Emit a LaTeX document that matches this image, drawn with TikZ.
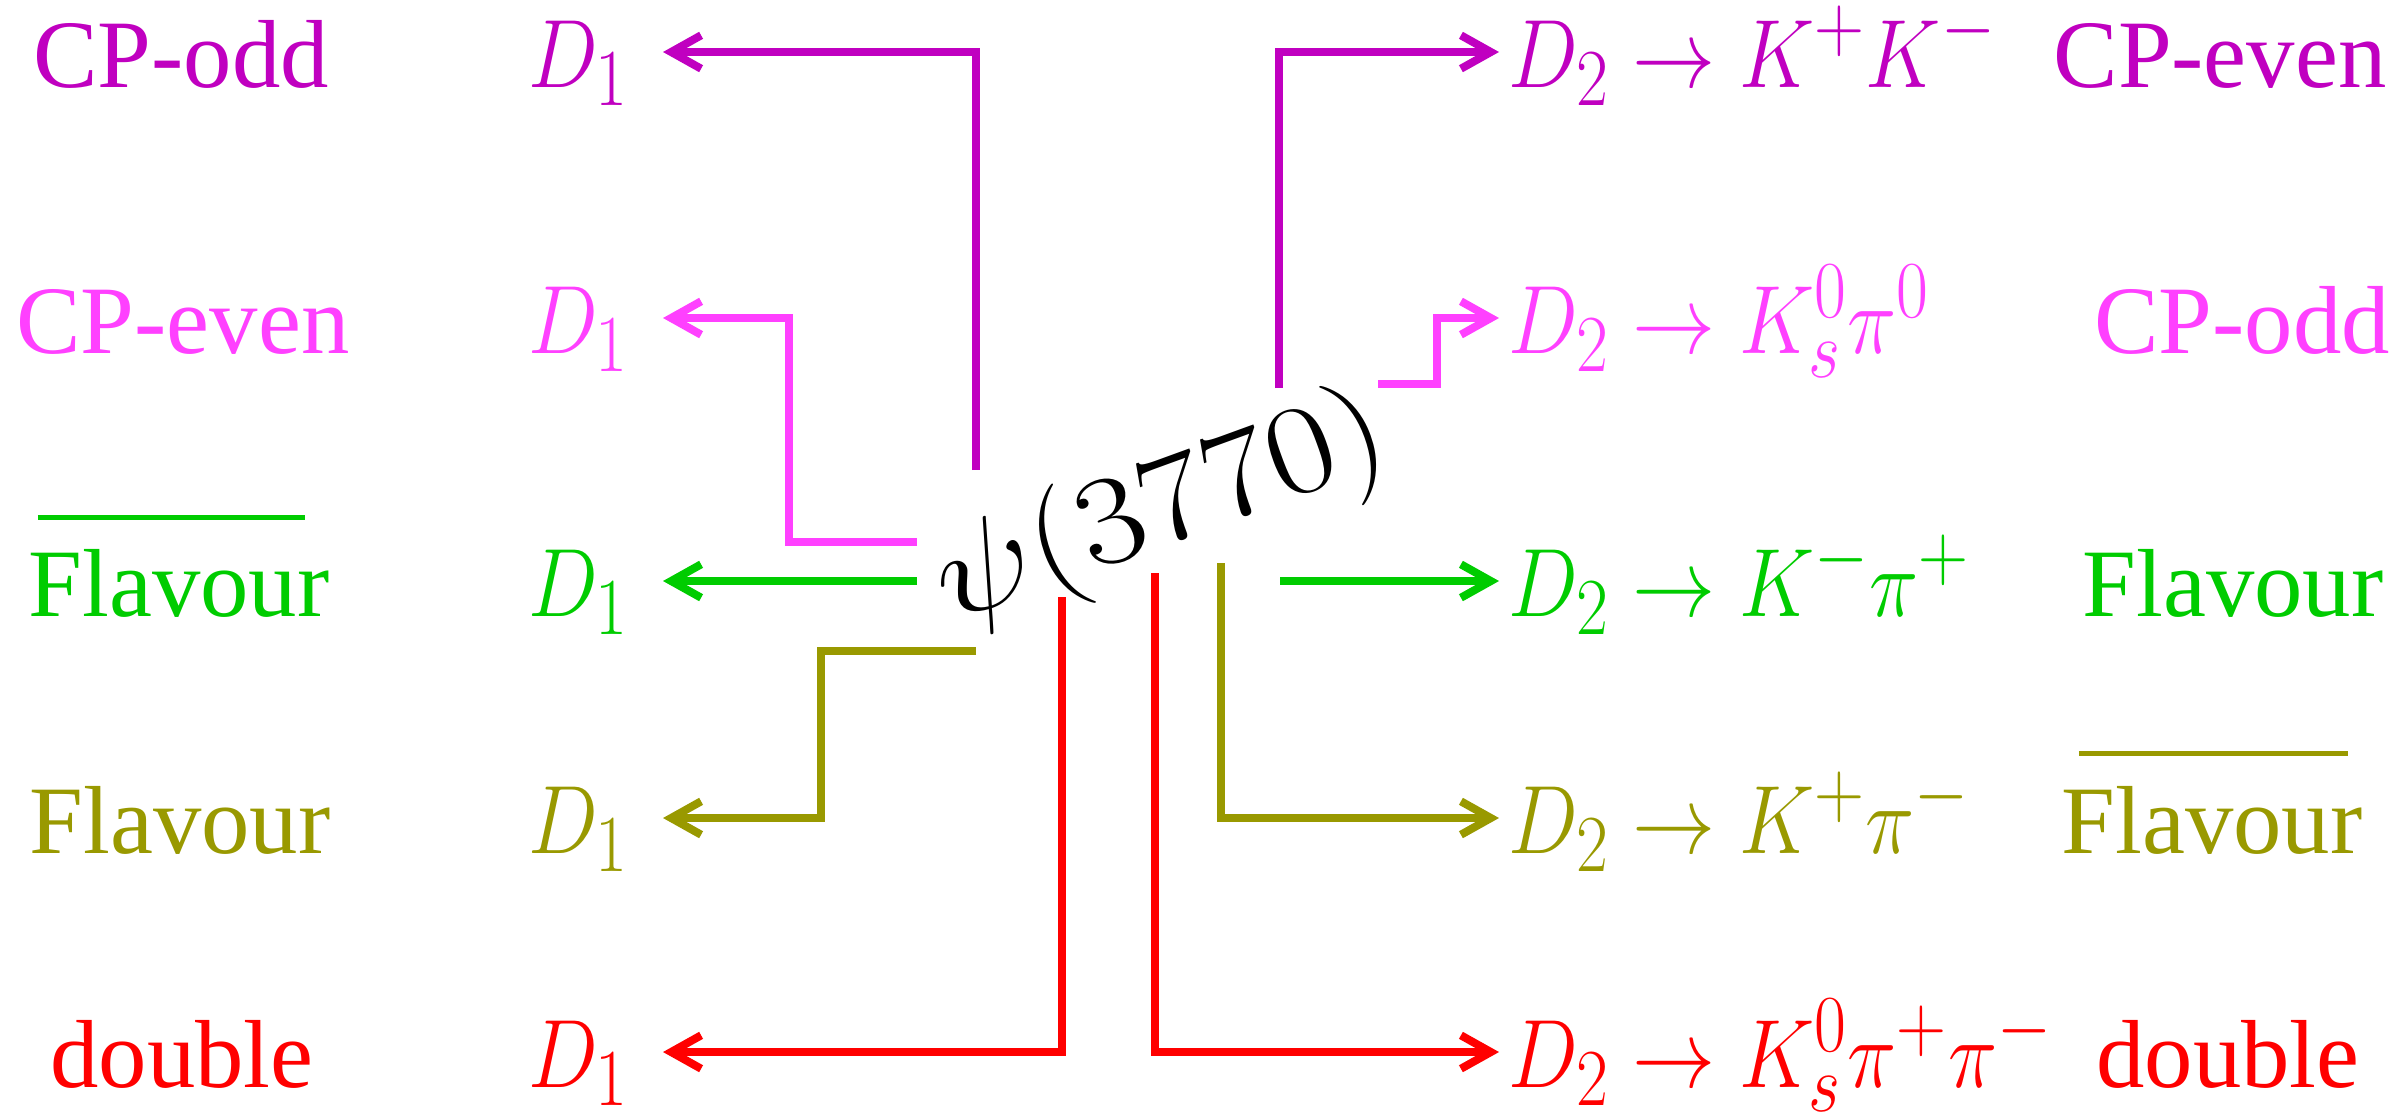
\documentclass[tikz,border=0pt]{standalone}
\usepackage{graphicx}
\usepackage{fontspec}
\setmainfont{Liberation Serif}
\usetikzlibrary{arrows.meta}
\definecolor{cpurple}{RGB}{192,0,192}
\definecolor{cpink}{RGB}{255,64,255}
\definecolor{cgreen}{RGB}{0,204,0}
\definecolor{colive}{RGB}{153,153,0}
\definecolor{cred}{RGB}{255,0,0}
\newcommand{\nm}[1]{\scalebox{0.95}[1.11]{$#1$}}
\begin{document}
\begin{tikzpicture}[x=0.01cm,y=-0.01cm,
  lbl/.style={inner sep=0pt, anchor=base, font=\fontsize{27.5}{33}\selectfont},
  dleft/.style={inner sep=0pt, anchor=base east, font=\fontsize{24.88}{30}\selectfont},
  dright/.style={inner sep=0pt, anchor=base west, font=\fontsize{24.88}{30}\selectfont},
  conn/.style={line width=0.08cm, -{Straight Barb[length=8.5pt,width=9.5pt]}},
  overl/.style={line width=0.05cm},
]
\useasboundingbox (0,0) rectangle (2395,1117);

% centre
\node[rotate=20, inner sep=0pt, font=\fontsize{24.88}{30}\selectfont] (psi) at (1162,512) {\scalebox{1.68}[1.45]{$\psi(3770)$}};

% left labels
\node[lbl, text=cpurple] (lab1) at (181,87) {CP-odd};
\node[lbl, text=cpink]   (lab2) at (183,353) {CP-even};
\node[lbl, text=cgreen]  (lab3) at (179,616) {Flavour};
\node[lbl, text=colive]  (lab4) at (180,853) {Flavour};
\node[lbl, text=cred]    (lab5) at (182,1087) {double};
\draw[overl, cgreen] ([shift={(10,-31)}]lab3.north west) -- ([shift={(-25,-31)}]lab3.north east);

% left D1 nodes
\node[dleft, text=cpurple] (da1) at (630,87) {\nm{D_1}};
\node[dleft, text=cpink]   (da2) at (630,353) {\nm{D_1}};
\node[dleft, text=cgreen]  (da3) at (630,616) {\nm{D_1}};
\node[dleft, text=colive]  (da4) at (630,853) {\nm{D_1}};
\node[dleft, text=cred]    (da5) at (630,1087) {\nm{D_1}};

% right D2 nodes
\node[dright, text=cpurple] (db1) at (1508,87) {\nm{D_2 \rightarrow K^+K^-}};
\node[dright, text=cpink]   (db2) at (1508,353) {\nm{D_2 \rightarrow K_s^0\pi^0}};
\node[dright, text=cgreen]  (db3) at (1508,616) {\nm{D_2 \rightarrow K^-\pi^+}};
\node[dright, text=colive]  (db4) at (1508,853) {\nm{D_2 \rightarrow K^+\pi^-}};
\node[dright, text=cred]    (db5) at (1508,1087) {\nm{D_2 \rightarrow K_s^0\pi^+\pi^-}};

% right labels
\node[lbl, text=cpurple] (rab1) at (2220,87) {CP-even};
\node[lbl, text=cpink]   (rab2) at (2242,353) {CP-odd};
\node[lbl, text=cgreen]  (rab3) at (2233,616) {Flavour};
\node[lbl, text=colive]  (rab4) at (2212,853) {Flavour};
\node[lbl, text=cred]    (rab5) at (2228,1087) {double};
\draw[overl, colive] ([shift={(18,-32)}]rab4.north west) -- ([shift={(-15,-32)}]rab4.north east);

% arrow end points
\foreach \i in {1,...,5}{
  \coordinate (ta\i) at ([shift={(33,-35)}]da\i.base east);
  \coordinate (tb\i) at ([shift={(-9,-35)}]db\i.base west);
}

% connector start points near psi
\coordinate (sa1) at (976,470);
\coordinate (sa2) at (917,542);
\coordinate (sa3) at (917,581);
\coordinate (sa4) at (976,651);
\coordinate (sa5) at (1062,597);
\coordinate (sb1) at (1279,388);
\coordinate (sb2) at (1378,384);
\coordinate (sb3) at (1280,581);
\coordinate (sb4) at (1221,563);
\coordinate (sb5) at (1155,573);

% left connectors
\draw[conn, cpurple] (sa1) |- (ta1);
\draw[conn, cpink]   (sa2) -- ++(-128,0) |- (ta2);
\draw[conn, cgreen]  (sa3) -- (ta3);
\draw[conn, colive]  (sa4) -- ++(-155,0) |- (ta4);
\draw[conn, cred]    (sa5) |- (ta5);

% right connectors
\draw[conn, cpurple] (sb1) |- (tb1);
\draw[conn, cpink]   (sb2) -- ++(59,0) |- (tb2);
\draw[conn, cgreen]  (sb3) -- (tb3);
\draw[conn, colive]  (sb4) |- (tb4);
\draw[conn, cred]    (sb5) |- (tb5);
\end{tikzpicture}
\end{document}
